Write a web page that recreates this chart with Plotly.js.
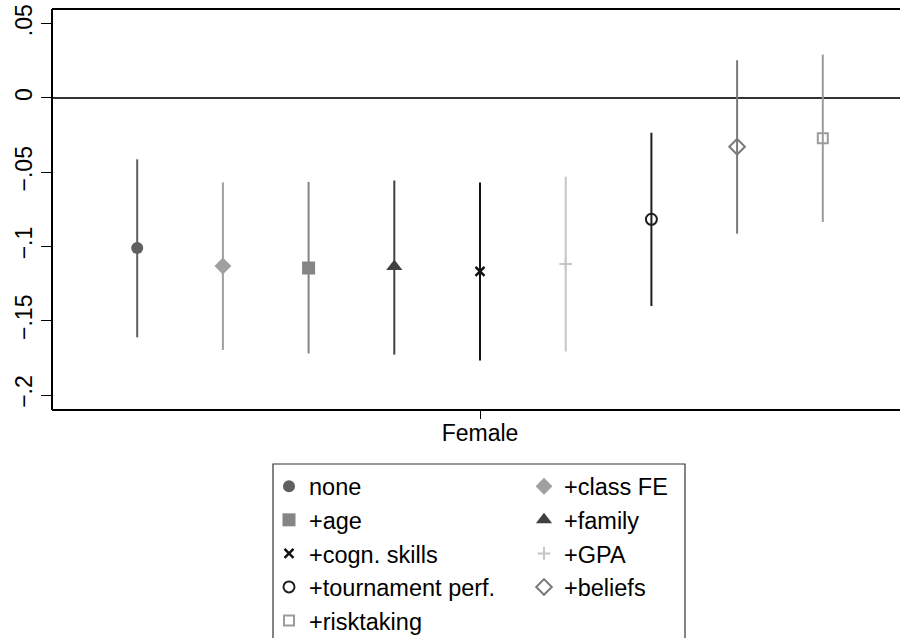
<!DOCTYPE html>
<html>
<head>
<meta charset="utf-8">
<script src="https://cdn.plot.ly/plotly-3.0.1.min.js"></script>
<style>html,body{margin:0;padding:0;background:#fff;}#chart{width:900px;height:638px;}</style>
</head>
<body>
<div id="chart"></div>
<script>
// Data
const seriesNames = ['none', '+class FE', '+age', '+family', '+cogn. skills', '+GPA', '+tournament perf.', '+beliefs', '+risktaking'];
const estimate = [-0.1010, -0.1131, -0.1145, -0.1135, -0.1168, -0.1118, -0.0817, -0.0328, -0.0271];
const ciLow    = [-0.1612, -0.1697, -0.1720, -0.1728, -0.1768, -0.1707, -0.1401, -0.0914, -0.0835];
const ciHigh   = [-0.0413, -0.0568, -0.0565, -0.0556, -0.0570, -0.0530, -0.0234, 0.0254, 0.0292];
const categoryLabel = ['Female'];
const yTickVals = [-0.2, -0.15, -0.1, -0.05, 0, 0.05];
const yTickText = ['\u2212.2', '\u2212.15', '\u2212.1', '\u2212.05', '0', '.05'];

// Styles
const colors = ['#5f5f5f', '#a0a0a0', '#858585', '#404040', '#111111', '#c6c6c6', '#1e1e1e', '#7a7a7a', '#9c9c9c'];
const symbols = ['circle', 'diamond', 'square', 'triangle-up', 'x-thin', 'cross-thin', 'circle-open', 'diamond-open', 'square-open'];
const sizes = [12, 13, 13, 14, 9, 9, 11, 12, 10];
const legendCol = ['legend', 'legend2', 'legend', 'legend2', 'legend', 'legend2', 'legend', 'legend2', 'legend'];

const FONT = 'Liberation Sans, Arial, Helvetica, sans-serif';
const n = seriesNames.length;
const traces = seriesNames.map((name, i) => {
  const thin = ['x-thin', 'cross-thin', 'circle-open', 'diamond-open', 'square-open'].includes(symbols[i]);
  return {
    type: 'scatter',
    mode: 'markers',
    name: name,
    x: [i - (n - 1) / 2],
    y: [estimate[i]],
    legend: legendCol[i],
    legendgroup: 'g' + i,
    error_y: {
      type: 'data', symmetric: false,
      array: [ciHigh[i] - estimate[i]],
      arrayminus: [estimate[i] - ciLow[i]],
      color: colors[i], thickness: 2, width: 0
    },
    marker: {
      symbol: symbols[i], size: sizes[i], color: colors[i],
      line: {color: colors[i], width: symbols[i] === 'x-thin' ? 2.5 : (thin ? 2 : 0)}
    },
    hoverinfo: 'skip'
  };
});

const plotL = 52, plotR = 900, plotT = 9, plotB = 410;
const pw = plotR - plotL, ph = plotB - plotT;
const px2x = p => (p - plotL) / pw;
const px2y = p => (plotB - p) / ph;
const yRange = [-0.2101, 0.0599];

const legendCommon = {
  bgcolor: 'rgba(0,0,0,0)', borderwidth: 0,
  font: {family: FONT, size: 23.5, color: '#000'},
  xanchor: 'left', yanchor: 'top', orientation: 'v',
  traceorder: 'grouped', tracegroupgap: 0, itemclick: false, itemdoubleclick: false
};

const layout = {
  width: 900, height: 638,
  margin: {l: plotL, r: 900 - plotR, t: plotT, b: 638 - plotB, pad: 0, autoexpand: false},
  paper_bgcolor: '#fff', plot_bgcolor: '#fff',
  font: {family: FONT, size: 23, color: '#000'},
  showlegend: true,
  xaxis: {
    range: [(plotL - 480) / 85.7, (plotR - 480) / 85.7],
    tickvals: [0], ticktext: categoryLabel,
    ticks: 'outside', ticklen: 8, tickwidth: 1, tickcolor: '#000',
    ticklabelstandoff: -6,
    showline: false, showgrid: false, zeroline: false, fixedrange: true,
    tickfont: {family: FONT, size: 23, color: '#000'}
  },
  yaxis: {
    range: yRange,
    tickvals: yTickVals, ticktext: yTickText, tickangle: -90,
    ticks: 'outside', ticklen: 10, tickwidth: 1, tickcolor: '#000',
    showline: false, showgrid: false,
    zeroline: true, zerolinecolor: '#333', zerolinewidth: 2,
    fixedrange: true,
    tickfont: {family: FONT, size: 23, color: '#000'}
  },
  legend: Object.assign({}, legendCommon, {x: px2x(269), y: px2y(464.5)}),
  legend2: Object.assign({}, legendCommon, {x: px2x(524), y: px2y(464.5)}),
  shapes: [
    // plot frame: top, bottom, left (right edge lies beyond the picture)
    {type: 'line', xref: 'paper', yref: 'paper', x0: 0, x1: 1.01, y0: 1, y1: 1, line: {color: '#000', width: 2}},
    {type: 'line', xref: 'paper', yref: 'paper', x0: 0, x1: 1.01, y0: 0, y1: 0, line: {color: '#000', width: 2}},
    {type: 'line', xref: 'paper', yref: 'paper', x0: 0, x1: 0, y0: 0, y1: 1, line: {color: '#000', width: 2}},
    // legend box
    {type: 'rect', xref: 'paper', yref: 'paper', x0: px2x(273), x1: px2x(685), y0: px2y(464), y1: px2y(645),
     line: {color: '#333', width: 1.2}, fillcolor: 'rgba(0,0,0,0)'}
  ]
};

Plotly.newPlot('chart', traces, layout, {displayModeBar: false, staticPlot: true});
</script>
</body>
</html>
